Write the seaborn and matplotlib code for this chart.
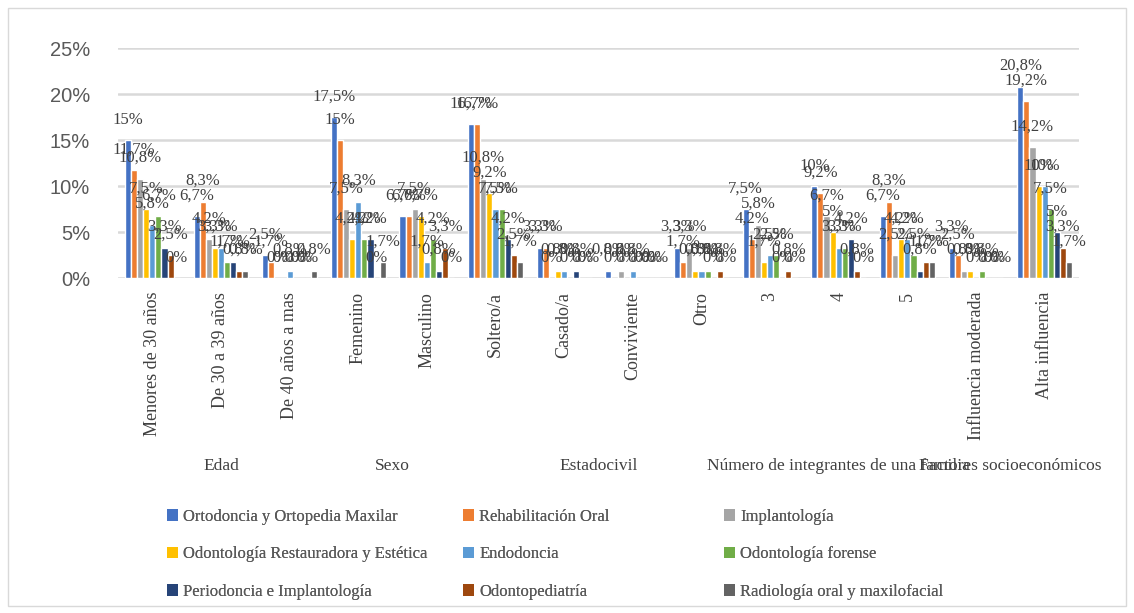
import pandas as pd
import matplotlib.pyplot as plt
import matplotlib.transforms as mtransforms
from matplotlib.patches import Patch, Rectangle
import seaborn as sns

categorias = ['Menores de 30 años', 'De 30 a 39 años', 'De 40 años a mas',
              'Femenino', 'Masculino',
              'Soltero/a', 'Casado/a', 'Conviviente', 'Otro',
              '3', '4', '5',
              'Influencia moderada', 'Alta influencia']

grupos = ['Edad', 'Sexo', 'Estadocivil',
          'Número de integrantes de una familia', 'Factores socioeconómicos']
grupo_inicio = [0, 3, 5, 9, 12]
grupo_fin = [2, 4, 8, 11, 13]

especialidades = ['Ortodoncia y Ortopedia Maxilar', 'Rehabilitación Oral', 'Implantología',
                  'Odontología Restauradora y Estética', 'Endodoncia', 'Odontología forense',
                  'Periodoncia e Implantología', 'Odontopediatría',
                  'Radiología oral y maxilofacial']

ortodoncia = [15, 6.7, 2.5, 17.5, 6.7, 16.7, 3.3, 0.8, 3.3, 7.5, 10, 6.7, 3.3, 20.8]
rehabilitacion = [11.7, 8.3, 1.7, 15, 6.7, 16.7, 3.3, 0, 1.7, 4.2, 9.2, 8.3, 2.5, 19.2]
implantologia = [10.8, 4.2, 0, 7.5, 7.5, 10.8, 0, 0.8, 3.3, 5.8, 6.7, 2.5, 0.8, 14.2]
restauradora = [7.5, 3.3, 0, 4.2, 6.7, 9.2, 0.8, 0, 0.8, 1.7, 5, 4.2, 0.8, 10]
endodoncia = [5.8, 3.3, 0.8, 8.3, 1.7, 7.5, 0.8, 0.8, 0.8, 2.5, 3.3, 4.2, 0, 10]
forense = [6.7, 1.7, 0, 4.2, 4.2, 7.5, 0, 0, 0.8, 2.5, 3.3, 2.5, 0.8, 7.5]
periodoncia = [3.3, 1.7, 0, 4.2, 0.8, 4.2, 0.8, 0, 0, 0, 4.2, 0.8, 0, 5.0]
odontopediatria = [2.5, 0.8, 0, 0, 3.3, 2.5, 0, 0, 0.8, 0.8, 0.8, 1.7, 0, 3.3]
radiologia = [0, 0.8, 0.8, 1.7, 0, 1.7, 0, 0, 0, 0, 0, 1.7, 0, 1.7]

colores = ['#4472C4', '#ED7D31', '#A5A5A5', '#FFC000', '#5B9BD5',
           '#70AD47', '#264478', '#9E480E', '#636363']

series = [ortodoncia, rehabilitacion, implantologia, restauradora, endodoncia,
          forense, periodoncia, odontopediatria, radiologia]

rows = []
for nombre, valores in zip(especialidades, series):
    for cat, v in zip(categorias, valores):
        rows.append({'categoria': cat, 'especialidad': nombre, 'valor': v})
df = pd.DataFrame(rows)


def fmt_pct(v):
    if float(v).is_integer():
        return f'{int(v)}%'
    return f'{v:.1f}%'.replace('.', ',')


sns.set_style('white')
plt.rcParams['font.family'] = ['Liberation Serif', 'DejaVu Serif']

fig = plt.figure(figsize=(11.34, 6.13), dpi=100)
ax = fig.add_axes([118 / 1134, 1 - 278 / 613, (1079 - 118) / 1134, 230 / 613])

sns.barplot(data=df, x='categoria', y='valor', hue='especialidad',
            order=categorias, hue_order=especialidades, palette=colores,
            saturation=1, width=0.8, legend=False, ax=ax, zorder=3)

for cont, valores in zip(ax.containers, series):
    ax.bar_label(cont, labels=[fmt_pct(v) for v in valores], padding=9,
                 fontsize=12, color='#404040')

ax.set_ylim(0, 25)
ax.set_yticks([0, 5, 10, 15, 20, 25])
ax.set_yticklabels([f'{t}%' for t in [0, 5, 10, 15, 20, 25]],
                   fontsize=14.5, color='#595959', family='Liberation Sans')
ax.yaxis.grid(True, color='#D9D9D9', linewidth=1.8, zorder=0)
ax.set_axisbelow(True)
ax.tick_params(axis='both', length=0)
ax.tick_params(axis='y', pad=20)
ax.tick_params(axis='x', pad=10)
ax.set_xticks(range(len(categorias)))
ax.set_xticklabels(categorias, rotation=90, fontsize=13, color='#404040', va='top')
ax.set_xlabel('')
ax.set_ylabel('')
sns.despine(ax=ax, left=True, bottom=True)

trans = mtransforms.blended_transform_factory(ax.transData, fig.transFigure)
for g, i0, i1 in zip(grupos, grupo_inicio, grupo_fin):
    ax.text((i0 + i1) / 2, 1 - 466 / 613, g, transform=trans, ha='center',
            va='center', fontsize=12.5, color='#404040')

# legend: three columns placed separately
handles = [Patch(facecolor=c, edgecolor='none') for c in colores]
col_x = [160 / 1134, 456 / 1134, 717 / 1134]
for k in range(3):
    idx = [k, k + 3, k + 6]
    leg = fig.legend([handles[i] for i in idx], [especialidades[i] for i in idx],
                     loc='upper left', bbox_to_anchor=(col_x[k], 1 - 502 / 613),
                     frameon=False, fontsize=12, handlelength=0.7, handleheight=0.7,
                     handletextpad=0.3, labelspacing=1.3, borderaxespad=0)
    for t in leg.get_texts():
        t.set_color('#595959')
    fig.add_artist(leg)

fig.patches.append(Rectangle((8 / 1134, 7 / 613), 1118 / 1134, 598 / 613,
                             transform=fig.transFigure, fill=False,
                             edgecolor='#D9D9D9', linewidth=1))

fig.savefig('out.png', dpi=100)
